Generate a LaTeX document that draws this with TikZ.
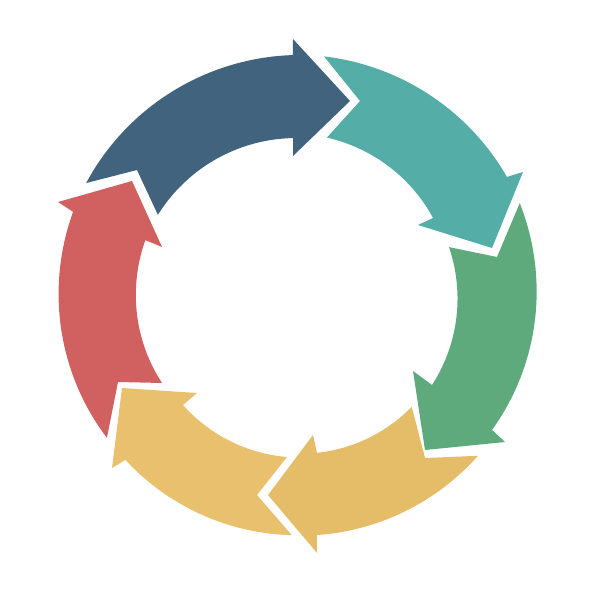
\documentclass[tikz,border=0pt]{standalone}
\definecolor{cblue}{HTML}{41637E}
\definecolor{cteal}{HTML}{54ADA6}
\definecolor{cgreen}{HTML}{5EAA7C}
\definecolor{cyelR}{HTML}{E5BC68}
\definecolor{cyelL}{HTML}{E8C06E}
\definecolor{cred}{HTML}{D16161}
\tikzset{seg/.style={line join=round}}
\begin{document}
\begin{tikzpicture}[x=0.5mm,y=-0.5mm]
\useasboundingbox (0,0) rectangle (600,600);
\coordinate (C) at (298,300);
% blue
\fill[cblue,seg] plot[domain=151.1:91.2,samples=40] ({298+(242+3*(\x-151.1)/(91.2-151.1))*cos(\x)},{300-(242+3*(\x-151.1)/(91.2-151.1))*sin(\x)})
  -- (293,39) -- (350,101) -- (293,156) -- (293,138)
  -- plot[domain=91.8:148.7,samples=40] ({298+(162+2*(\x-91.8)/(148.7-91.8))*cos(\x)},{300-(162+2*(\x-91.8)/(148.7-91.8))*sin(\x)})
  -- (137,170) -- cycle;
% teal
\fill[cteal,seg] plot[domain=83.9:30.5,samples=40] ({298+(245-2.5*(\x-83.9)/(30.5-83.9))*cos(\x)},{300-(245-2.5*(\x-83.9)/(30.5-83.9))*sin(\x)})
  -- (523,172) -- (492,248) -- (418,225) -- (433,218)
  -- plot[domain=31.3:79.9,samples=40] ({298+(158+7*(\x-31.3)/(79.9-31.3))*cos(\x)},{300-(158+7*(\x-31.3)/(79.9-31.3))*sin(\x)})
  -- (360,101) -- cycle;
% green
\fill[cgreen,seg] plot[domain=23.6:-33.8,samples=40] ({298+(242-8.5*(\x-23.6)/(-33.8-23.6))*cos(\x)},{300-(242-8.5*(\x-23.6)/(-33.8-23.6))*sin(\x)})
  -- (505,442) -- (425,450) -- (413,371) -- (432,385)
  -- plot[domain=-32.4:19.3,samples=40] ({298+(158.7+1.3*(\x+32.4)/(19.3+32.4))*cos(\x)},{300-(158.7+1.3*(\x+32.4)/(19.3+32.4))*sin(\x)})
  -- (497,257) -- cycle;
% yellow right
\fill[cyelR,seg] plot[domain=-40.9:-85.4,samples=40] ({298+(238-2.2*(\x+40.9)/(-85.4+40.9))*cos(\x)},{300-(238-2.2*(\x+40.9)/(-85.4+40.9))*sin(\x)})
  -- (317,553) -- (268,495) -- (313,435) -- (317,453)
  -- plot[domain=-82.9:-43.2,samples=40] ({298+(154+2*(\x+82.9)/(-43.2+82.9))*cos(\x)},{300-(154+2*(\x+82.9)/(-43.2+82.9))*sin(\x)})
  -- (425,458) -- cycle;
% yellow left
\fill[cyelL,seg] plot[domain=-91.5:-137.2,samples=40] ({298+235.3*cos(\x)},{300-235.3*sin(\x)})
  -- (112,468) -- (122,388) -- (197,393) -- (183,405)
  -- plot[domain=-137.6:-94,samples=40] ({298+(155.7+1.7*(\x+137.6)/(-94+137.6))*cos(\x)},{300-(155.7+1.7*(\x+137.6)/(-94+137.6))*sin(\x)})
  -- (257,495) -- cycle;
% red
\fill[cred,seg] plot[domain=-144.2:-201.4,samples=40] ({298+(235.6+6*(\x+144.2)/(-201.4+144.2))*cos(\x)},{300-(235.6+6*(\x+144.2)/(-201.4+144.2))*sin(\x)})
  -- (58,202) -- (132,181) -- (162,247) -- (145,240)
  -- plot[domain=-201.4:-148.6,samples=40] ({298+(164-4.7*(\x+201.4)/(-148.6+201.4))*cos(\x)},{300-(164-4.7*(\x+201.4)/(-148.6+201.4))*sin(\x)})
  -- (118,382) -- cycle;
\end{tikzpicture}
\end{document}
